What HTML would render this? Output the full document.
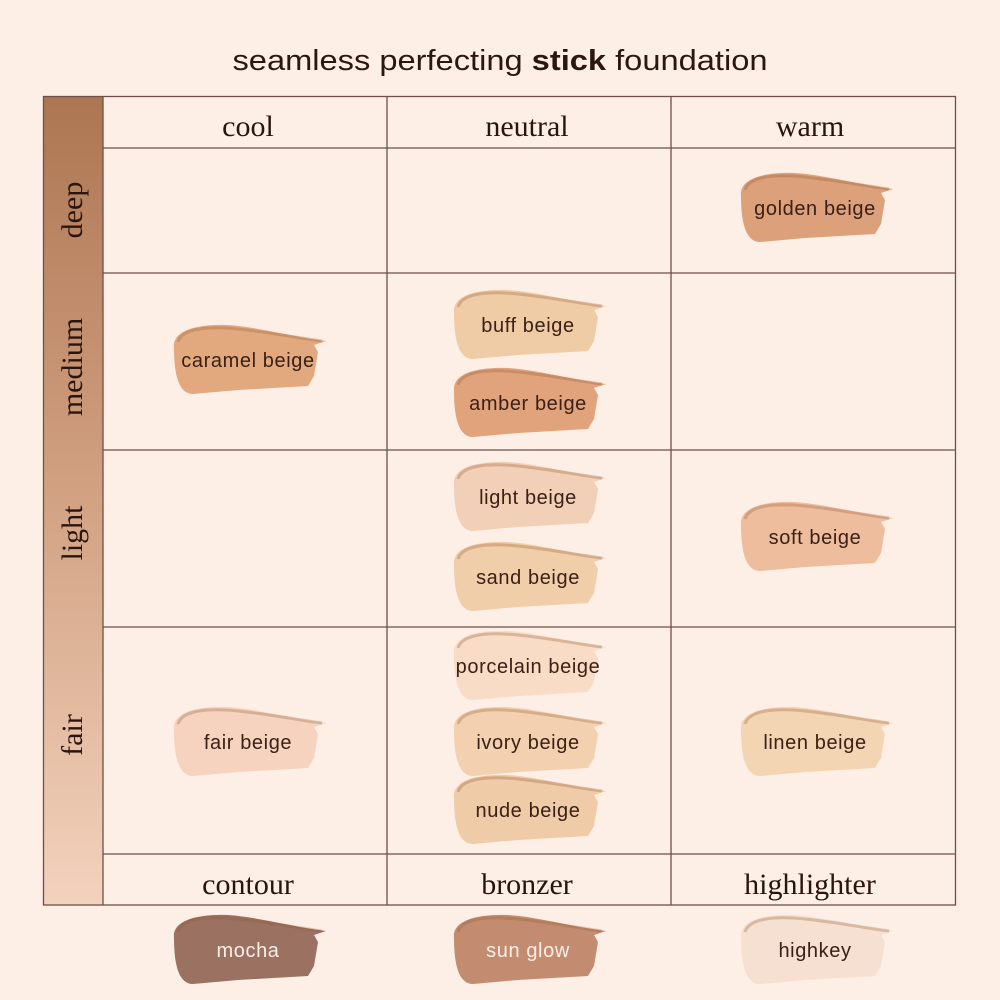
<!DOCTYPE html>
<html><head><meta charset="utf-8"><style>
html,body{margin:0;padding:0;background:#fdeee6;}
svg{display:block}
.hd{font-family:"Liberation Serif",serif;font-size:30px;fill:#2a140c;text-anchor:middle}
.lb{font-family:"Liberation Sans",sans-serif;font-size:20px;letter-spacing:0.6px;fill:#3a2016;text-anchor:middle}
</style></head><body>
<svg width="1000" height="1000" viewBox="0 0 1000 1000">
<defs>
<linearGradient id="side" x1="0" y1="0" x2="0" y2="1">
<stop offset="0" stop-color="#ad7652"/><stop offset="0.5" stop-color="#d2a283"/><stop offset="1" stop-color="#f3d2bd"/>
</linearGradient>
</defs>
<rect width="1000" height="1000" fill="#fdeee6"/>
<text x="500" y="70" textLength="535" lengthAdjust="spacingAndGlyphs" font-family="Liberation Sans, sans-serif" font-size="29" fill="#2e1610" text-anchor="middle">seamless perfecting <tspan font-weight="bold">stick</tspan> foundation</text>
<rect x="43" y="96" width="60" height="809" fill="url(#side)"/>
<g stroke="#6e5048" stroke-width="1.3" fill="none">
<rect x="43.5" y="96.5" width="912" height="808.5"/>
<line x1="103" y1="96" x2="103" y2="905"/>
<line x1="387" y1="96" x2="387" y2="905"/>
<line x1="671" y1="96" x2="671" y2="905"/>
<line x1="103" y1="148" x2="956" y2="148"/>
<line x1="103" y1="273" x2="956" y2="273"/>
<line x1="103" y1="450" x2="956" y2="450"/>
<line x1="103" y1="627" x2="956" y2="627"/>
<line x1="103" y1="854" x2="956" y2="854"/>
</g>
<text class="hd" x="248" y="136">cool</text>
<text class="hd" x="527" y="136">neutral</text>
<text class="hd" x="810" y="136">warm</text>
<text class="hd" x="248" y="894">contour</text>
<text class="hd" x="527" y="894">bronzer</text>
<text class="hd" x="810" y="894">highlighter</text>
<text class="hd" transform="translate(82,210) rotate(-90)">deep</text>
<text class="hd" transform="translate(82,367) rotate(-90)">medium</text>
<text class="hd" transform="translate(82,533) rotate(-90)">light</text>
<text class="hd" transform="translate(82,735) rotate(-90)">fair</text>
<g id="sw"></g>
</svg>
<script>
const names=["golden beige","caramel beige","buff beige","amber beige","light beige","sand beige","soft beige","porcelain beige","ivory beige","nude beige","fair beige","linen beige","mocha","sun glow","highkey"];
const colors=["#dca17a","#e2a97f","#f0cca6","#e0a37b","#f2cfb7","#efcea9","#eebd9d","#f8dcc5","#f3d0af","#f0cba7","#f5d3bf","#f3d5b4","#9b7162","#c38c70","#f6e0d1"];
const cx=[815,248,528,528,528,528,815,528,528,528,248,815,248,528,815];
const cy=[208,360,325,403,497,577,537,666,742,810,742,742,950,950,950];
const light=[false,false,false,false,false,false,false,false,false,false,false,false,true,true,false];
const g=document.getElementById('sw');
const NS="http://www.w3.org/2000/svg";
for(let i=0;i<names.length;i++){
  const grp=document.createElementNS(NS,'g');
  grp.setAttribute('transform',`translate(${cx[i]},${cy[i]})`);
  
  
  const p=document.createElementNS(NS,'path');
  p.setAttribute('d','M-74,-12 C-76,-30 -50,-36 -20,-35 C10,-33 40,-24 78,-19 L66,-15 L70,-8 L66,16 L60,26 L-10,30 L-55,34 C-68,34 -74,18 -74,-12Z');
  p.setAttribute('fill',colors[i]);
  grp.appendChild(p);
  const hl=document.createElementNS(NS,'path');
  hl.setAttribute('d','M-70,-18 C-66,-32 -40,-34 -10,-31 C20,-28 50,-22 74,-19');
  hl.setAttribute('stroke','rgba(150,90,50,0.3)');hl.setAttribute('stroke-width','3');hl.setAttribute('fill','none');
  grp.appendChild(hl);
  const t=document.createElementNS(NS,'text');
  t.setAttribute('class','lb');
  t.setAttribute('x','0');t.setAttribute('y','7');
  if(light[i]) t.setAttribute('style','fill:#fbeee6');
  t.textContent=names[i];
  grp.appendChild(t);
  g.appendChild(grp);
}
</script>
</body></html>
